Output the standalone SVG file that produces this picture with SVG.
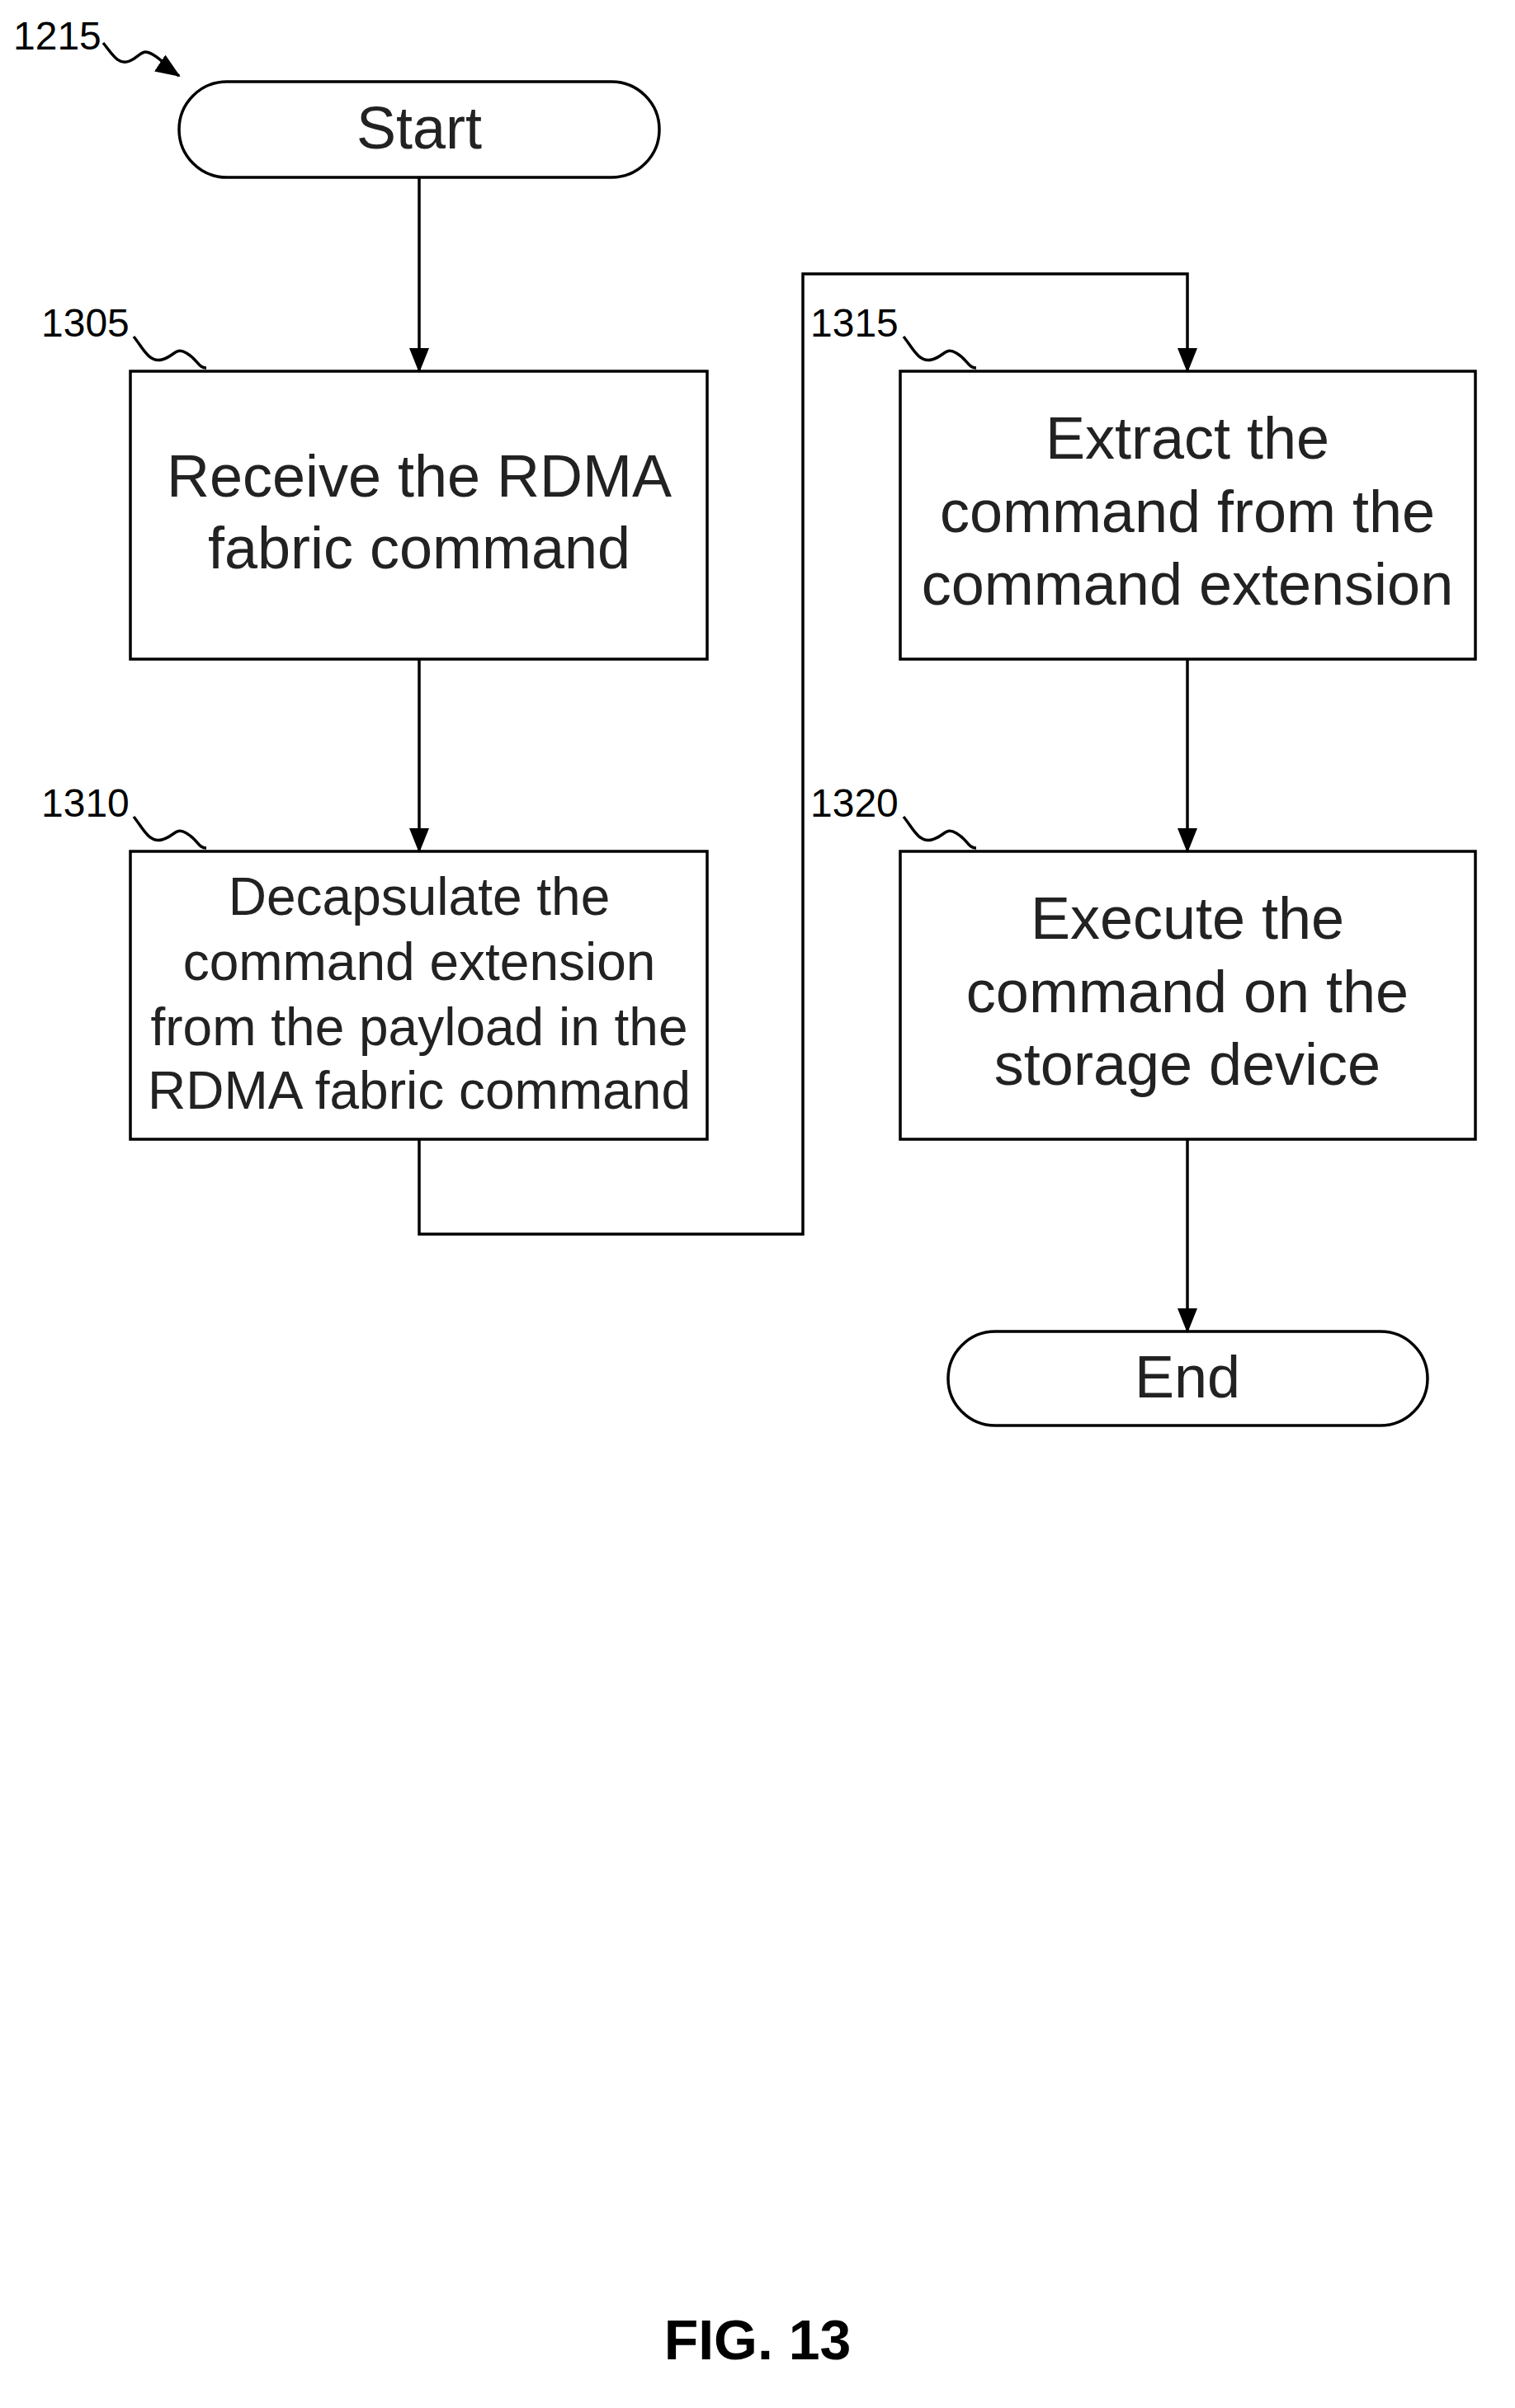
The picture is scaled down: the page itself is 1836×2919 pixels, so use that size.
<svg xmlns="http://www.w3.org/2000/svg" width="1836" height="2919" viewBox="0 0 1836 2919">
<style>
.b{fill:#fff;stroke:#000;stroke-width:3.5}
.t{font-family:"Liberation Sans",Arial,sans-serif;font-size:72px;text-anchor:middle;fill:#222}
.s{font-size:64px}
.l{font-family:"Liberation Sans",Arial,sans-serif;font-size:48px;fill:#000}
.c{fill:none;stroke:#000;stroke-width:3.5}
</style>
<defs><marker id="a2" markerWidth="30" markerHeight="24" refX="28" refY="12" orient="auto" markerUnits="userSpaceOnUse"><path d="M0,0L30,12L0,24z"/></marker></defs>
<rect width="1836" height="2919" fill="#fff"/>
<g id="start"><rect class="b" x="217" y="99" width="582" height="116" rx="58"/><text class="t" x="508" y="180">Start</text></g>
<g id="n1305"><rect class="b" x="158" y="450" width="699" height="349"/><text class="t" x="508" y="602">Receive the RDMA</text><text class="t" x="508" y="689">fabric command</text></g>
<g id="n1310"><rect class="b" x="158" y="1032" width="699" height="349"/><text class="t s" x="508" y="1109">Decapsulate the</text><text class="t s" x="508" y="1188">command extension</text><text class="t s" x="508" y="1267">from the payload in the</text><text class="t s" x="508" y="1344">RDMA fabric command</text></g>
<g id="n1315"><rect class="b" x="1091" y="450" width="697" height="349"/><text class="t" x="1439" y="556">Extract the</text><text class="t" x="1439" y="645">command from the</text><text class="t" x="1439" y="733">command extension</text></g>
<g id="n1320"><rect class="b" x="1091" y="1032" width="697" height="349"/><text class="t" x="1439" y="1138">Execute the</text><text class="t" x="1439" y="1227">command on the</text><text class="t" x="1439" y="1315">storage device</text></g>
<g id="end"><rect class="b" x="1149" y="1614" width="581" height="114" rx="57"/><text class="t" x="1439" y="1694">End</text></g>
<g id="labels">
<text class="l" x="16" y="60">1215</text>
<text class="l" x="50" y="408">1305</text>
<text class="l" x="50" y="990">1310</text>
<text class="l" x="982" y="408">1315</text>
<text class="l" x="982" y="990">1320</text>
<text style="font-family:'Liberation Sans',Arial,sans-serif;font-size:68px;font-weight:bold;text-anchor:middle" x="918" y="2860">FIG. 13</text>
</g>
<g id="connectors">
<path class="c" d="M508,215V450" marker-end="url(#a2)"/>
<path class="c" d="M508,799V1032" marker-end="url(#a2)"/>
<path class="c" d="M508,1381V1496H973V332H1439V450" marker-end="url(#a2)"/>
<path class="c" d="M1439,799V1032" marker-end="url(#a2)"/>
<path class="c" d="M1439,1381V1614" marker-end="url(#a2)"/>
<path class="c" d="M125,52c10,12 18,28 32,22s14,-16 28,-8s20,18 32,26" marker-end="url(#a2)"/>
<path class="c" d="M162,408c10,12 18,32 34,28s16,-16 30,-8s14,18 24,18"/>
<path class="c" d="M162,990c10,12 18,32 34,28s16,-16 30,-8s14,18 24,18"/>
<path class="c" d="M1095,408c10,12 18,32 34,28s16,-16 30,-8s14,18 24,18"/>
<path class="c" d="M1095,990c10,12 18,32 34,28s16,-16 30,-8s14,18 24,18"/>
</g>
</svg>
